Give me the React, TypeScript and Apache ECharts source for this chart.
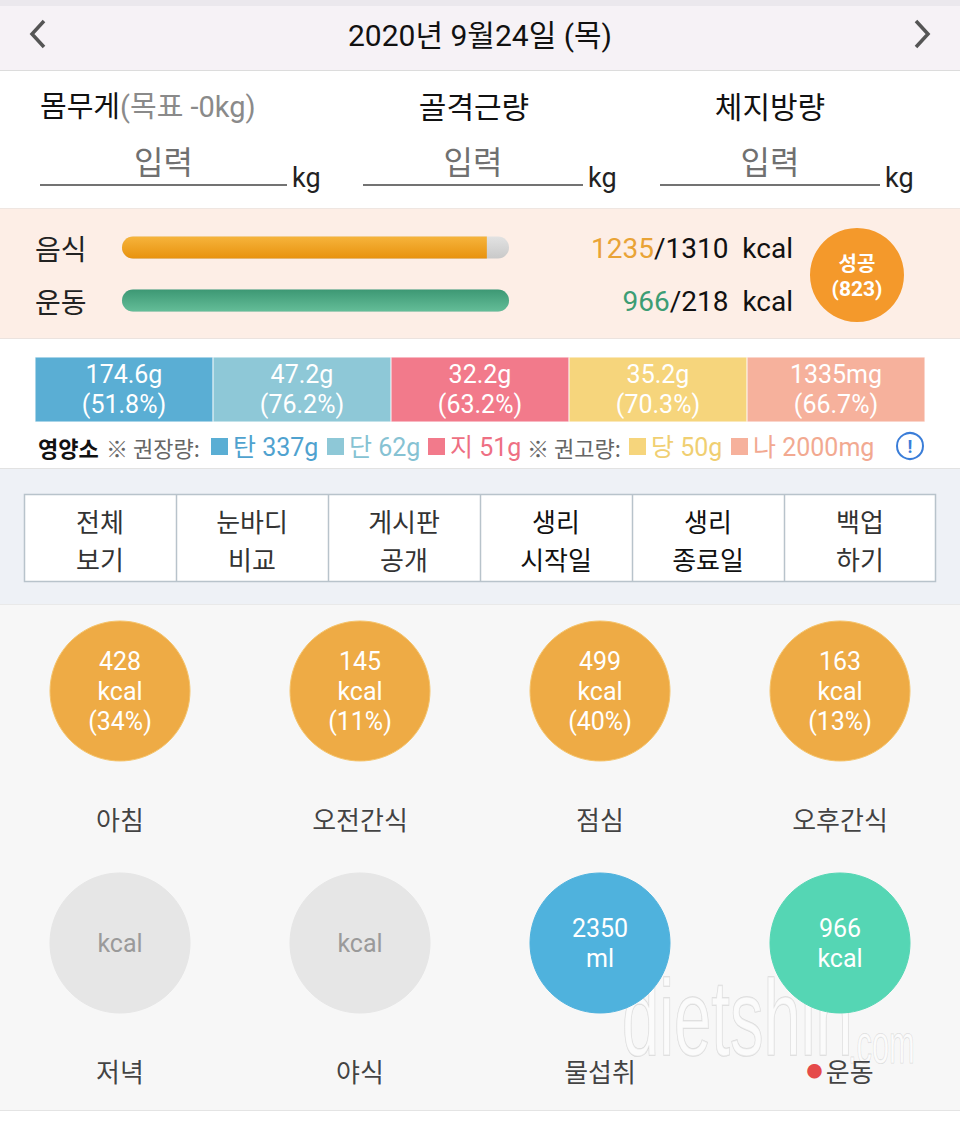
import React, { useEffect, useRef } from "react";
import * as echarts from "echarts";

const dateTitle = "2020년 9월24일 (목)";
const bodyFields = ["몸무게", "골격근량", "체지방량"];
const goalText = "(목표 -0kg)";
const inputPlaceholder = "입력";
const calorieRows = ["음식", "운동"];
const calorieActual = [1235, 966];
const calorieTarget = [1310, 218];
const successScore = 823;
const nutrientNames = ["탄", "단", "지", "당", "나"];
const nutrientAmounts = ["174.6g", "47.2g", "32.2g", "35.2g", "1335mg"];
const nutrientPercents = [51.8, 76.2, 63.2, 70.3, 66.7];
const nutrientRecommended = ["337g", "62g", "51g", "50g", "2000mg"];
const nutrientCellFill = [1, 1, 1, 1, 1];
const nutrientColors = ["#5aaed4", "#8ec8d7", "#f27a8b", "#f6d57c", "#f6b19c"];
const nutrientTextColors = ["#4fa2cf", "#86c2d3", "#ee6f83", "#f0cf72", "#f2a991"];
const menuButtons = [
  ["전체", "보기"],
  ["눈바디", "비교"],
  ["게시판", "공개"],
  ["생리", "시작일"],
  ["생리", "종료일"],
  ["백업", "하기"],
];
const mealNames = ["아침", "오전간식", "점심", "오후간식", "저녁", "야식", "물섭취", "운동"];
const mealKcal: (number | null)[] = [428, 145, 499, 163, null, null];
const mealPercent: (number | null)[] = [34, 11, 40, 13, null, null];
const waterMl = 2350;
const exerciseKcal = 966;
const watermark = ["dietshin", ".com"];

const FONT = "Roboto, 'Noto Sans CJK KR', sans-serif";
const KFONT = "'Noto Sans CJK KR', Roboto, sans-serif";
const NARROW = "'Liberation Sans Narrow', 'Liberation Sans', sans-serif";

export default function App() {
  const ref = useRef<HTMLDivElement>(null);
  useEffect(() => {
    document.body.style.margin = "0";
    if (!ref.current) return;
    const chart = echarts.init(ref.current, undefined, { renderer: "svg" });

    const g: any[] = [];
    const rect = (x: number, y: number, w: number, h: number, fill: string, extra: any = {}) =>
      g.push({ type: "rect", silent: true, shape: { x, y, width: w, height: h }, style: { fill, ...extra } });
    const line = (x1: number, y1: number, x2: number, y2: number, stroke: string, lw = 1) =>
      g.push({ type: "line", silent: true, shape: { x1, y1, x2, y2 }, style: { stroke, lineWidth: lw } });
    const mkText = (x: number, y: number, t: string, o: any = {}) => ({
      type: "text",
      silent: true,
      x,
      y,
      style: {
        text: t,
        fill: o.color || "#222",
        fontSize: o.size || 26,
        fontFamily: o.family || FONT,
        fontWeight: o.weight || "normal",
        align: o.align || "left",
        verticalAlign: o.valign || "middle",
        lineHeight: o.lineHeight,
        stroke: o.stroke,
        lineWidth: o.lineWidth,
        rich: o.rich,
      },
    });
    const text = (x: number, y: number, t: string, o: any = {}) => g.push(mkText(x, y, t, o));

    // section backgrounds
    rect(0, 0, 960, 71, "#f6f2f6");
    rect(0, 0, 960, 6, "#ebe8ed");
    line(0, 70.5, 960, 70.5, "#dcdcdc");
    rect(0, 71, 960, 138, "#ffffff");
    rect(0, 209, 960, 130, "#fdeee6");
    line(0, 208.5, 960, 208.5, "#efe6e1");
    line(0, 338.5, 960, 338.5, "#ebe3df");
    rect(0, 339, 960, 129, "#ffffff");
    line(0, 468.5, 960, 468.5, "#e2e2e2");
    rect(0, 469, 960, 135, "#eef1f6");
    rect(0, 604, 960, 506, "#f7f7f7");
    line(0, 604.5, 960, 604.5, "#e9e9e9");
    line(0, 1110.5, 960, 1110.5, "#e4e4e4");
    rect(0, 1111, 960, 12, "#ffffff");

    // header
    g.push({ type: "polyline", silent: true, shape: { points: [[44, 21], [32, 34], [44, 47]] }, style: { stroke: "#555", lineWidth: 3.5, fill: "none" } });
    g.push({ type: "polyline", silent: true, shape: { points: [[916, 21], [928, 34], [916, 47]] }, style: { stroke: "#555", lineWidth: 3.5, fill: "none" } });
    text(480, 35, dateTitle, { size: 30, color: "#111", align: "center" });

    // body measurements
    text(40, 107, `{a|${bodyFields[0]}}{b|${goalText}}`, {
      rich: {
        a: { fontSize: 29, fill: "#111", fontFamily: FONT },
        b: { fontSize: 29, fill: "#8a8a8a", fontFamily: FONT },
      },
    });
    text(474, 107, bodyFields[1], { size: 30, color: "#111", align: "center" });
    text(770, 107, bodyFields[2], { size: 30, color: "#111", align: "center" });
    const inputs = [
      [40, 287],
      [363, 583],
      [660, 880],
    ];
    inputs.forEach(([a, b]) => {
      text((a + b) / 2, 163, inputPlaceholder, { size: 32, color: "#707070", align: "center" });
      line(a, 185, b, 185, "#444", 1.5);
      text(b + 5, 178, "kg", { size: 27, color: "#222" });
    });

    // calorie values
    const calColors = ["#e9a336", "#3c9d74"];
    calorieRows.forEach((_, i) => {
      text(793, 248 + i * 53, `{a|${calorieActual[i]}}{b|/${calorieTarget[i]}  kcal}`, {
        align: "right",
        rich: {
          a: { fontSize: 28, fill: calColors[i], fontFamily: FONT },
          b: { fontSize: 28, fill: "#111", fontFamily: FONT },
        },
      });
    });
    g.push({ type: "circle", silent: true, shape: { cx: 857, cy: 275, r: 47 }, style: { fill: "#f4992b" } });
    text(857, 262, "성공", { size: 20, color: "#fff", align: "center", weight: "bold", family: KFONT });
    text(857, 289, `(${successScore})`, { size: 21, color: "#fff", align: "center", weight: "bold" });

    // nutrient legend
    text(38, 447, "영양소", { size: 22, color: "#111", weight: "bold", family: KFONT });
    text(106, 447, "※ 권장량:", { size: 22, color: "#666", family: KFONT });
    text(527, 447, "※ 권고량:", { size: 22, color: "#666", family: KFONT });
    const sqX = [211, 327, 428, 629, 731];
    nutrientNames.forEach((n, i) => {
      rect(sqX[i], 438, 17, 17, nutrientColors[i]);
      text(sqX[i] + 22, 447, `${n} ${nutrientRecommended[i]}`, { size: 25, color: nutrientTextColors[i] });
    });
    g.push({ type: "circle", silent: true, shape: { cx: 910, cy: 446, r: 13 }, style: { fill: "none", stroke: "#3a7dd8", lineWidth: 2 } });
    text(910, 446, "!", { size: 18, color: "#3a7dd8", align: "center", weight: "bold" });

    // menu table
    rect(24.5, 494.5, 911, 87, "#ffffff", { stroke: "#b8c3cb", lineWidth: 1.5 });
    menuButtons.forEach((m, i) => {
      if (i > 0) line(24.5 + 152 * i, 495, 24.5 + 152 * i, 581, "#b8c3cb", 1.5);
      const c = i === 3 || i === 4 ? "#111" : "#333";
      text(100 + 152 * i, 539, `${m[0]}\n${m[1]}`, { size: 26, color: c, align: "center", family: KFONT, lineHeight: 38 });
    });

    // watermark (drawn above the circles, horizontally condensed)
    g.push({
      type: "group",
      x: 622,
      y: 1072,
      scaleX: 0.62,
      scaleY: 1,
      z: 50,
      silent: true,
      children: [
        mkText(0, 0, watermark[0], {
          size: 108,
          family: NARROW,
          color: "rgba(255,255,255,0.5)",
          stroke: "rgba(100,100,100,0.2)",
          lineWidth: 1.5,
          valign: "bottom",
        }),
      ],
    });
    g.push({
      type: "group",
      x: 848,
      y: 1072,
      scaleX: 0.55,
      scaleY: 1,
      z: 50,
      silent: true,
      children: [
        mkText(0, 0, watermark[1], {
          size: 56,
          family: NARROW,
          color: "rgba(255,255,255,0.5)",
          stroke: "rgba(100,100,100,0.2)",
          lineWidth: 1.2,
          valign: "bottom",
        }),
      ],
    });

    // meal circle data
    const circleItems: any[] = [];
    const nameItems: any[] = [];
    mealNames.forEach((name, i) => {
      const col = i % 4;
      const row = Math.floor(i / 4);
      let color = "#e6e6e6";
      let label = "kcal";
      let lc = "#9a9a9a";
      if (i < 6) {
        if (mealKcal[i] !== null) {
          color = "#eeab45";
          label = `${mealKcal[i]}\nkcal\n(${mealPercent[i]}%)`;
          lc = "#ffffff";
        }
      } else if (i === 6) {
        color = "#4fb2dd";
        label = `${waterMl}\nml`;
        lc = "#ffffff";
      } else {
        color = "#55d6b4";
        label = `${exerciseKcal}\nkcal`;
        lc = "#ffffff";
      }
      circleItems.push({
        value: [col, row],
        itemStyle: { color, opacity: 1, borderColor: color === "#eeab45" ? "#f5c46c" : color, borderWidth: 1 },
        label: { formatter: label, color: lc },
      });
      nameItems.push({
        value: [col, row],
        label: { formatter: i === 7 ? `{dot|●} {t|${name}}` : `{t|${name}}` },
      });
    });

    const foodBars = calorieRows.map((_, i) => {
      const v = Math.min(calorieActual[i] / calorieTarget[i], 1);
      const grad =
        i === 0
          ? new echarts.graphic.LinearGradient(0, 0, 0, 1, [
              { offset: 0, color: "#f6b43c" },
              { offset: 1, color: "#e8920e" },
            ])
          : new echarts.graphic.LinearGradient(0, 0, 0, 1, [
              { offset: 0, color: "#3d9874" },
              { offset: 1, color: "#64bd98" },
            ]);
      return { value: v, itemStyle: { color: grad, borderRadius: v < 1 ? [11, 0, 0, 11] : 11 } };
    });

    chart.setOption({
      animation: false,
      backgroundColor: "#ffffff",
      graphic: { elements: g },
      grid: [
        { left: 122, top: 221, width: 387, height: 106 },
        { left: 35, top: 357, width: 890, height: 65 },
        { left: 0, top: 565, width: 960, height: 504 },
      ],
      xAxis: [
        { gridIndex: 0, type: "value", min: 0, max: 1, show: false },
        { gridIndex: 1, type: "category", data: nutrientNames, show: false },
        { gridIndex: 2, type: "category", data: ["0", "1", "2", "3"], show: false },
      ],
      yAxis: [
        {
          gridIndex: 0,
          type: "category",
          data: calorieRows,
          inverse: true,
          axisLine: { show: false },
          axisTick: { show: false },
          axisLabel: { align: "left", margin: 87, fontSize: 28, color: "#222", fontFamily: KFONT },
        },
        { gridIndex: 1, type: "value", min: 0, max: 1, show: false },
        { gridIndex: 2, type: "category", data: ["0", "1"], inverse: true, show: false },
      ],
      series: [
        {
          type: "bar",
          xAxisIndex: 0,
          yAxisIndex: 0,
          barWidth: 22,
          data: foodBars,
          showBackground: true,
          backgroundStyle: {
            color: new echarts.graphic.LinearGradient(0, 0, 0, 1, [
              { offset: 0, color: "#e2e2e2" },
              { offset: 1, color: "#c9c9c9" },
            ]),
            borderRadius: 11,
          },
        },
        {
          type: "bar",
          xAxisIndex: 1,
          yAxisIndex: 1,
          barCategoryGap: "0%",
          data: nutrientCellFill.map((v, i) => ({ value: v, itemStyle: { color: nutrientColors[i] } })),
          itemStyle: { borderColor: "rgba(255,255,255,0.8)", borderWidth: 0.5 },
          label: {
            show: true,
            position: "inside",
            color: "#fff",
            fontSize: 25,
            lineHeight: 30,
            fontFamily: FONT,
            formatter: (p: any) => `${nutrientAmounts[p.dataIndex]}\n(${nutrientPercents[p.dataIndex].toFixed(1)}%)`,
          },
        },
        {
          type: "scatter",
          xAxisIndex: 2,
          yAxisIndex: 2,
          symbolSize: 140,
          data: circleItems,
          itemStyle: { opacity: 1 },
          label: { show: true, position: "inside", fontSize: 25, lineHeight: 30, fontFamily: FONT },
          z: 3,
        },
        {
          type: "scatter",
          xAxisIndex: 2,
          yAxisIndex: 2,
          symbolSize: 140,
          silent: true,
          itemStyle: { color: "rgba(0,0,0,0)" },
          data: nameItems,
          label: {
            show: true,
            position: "bottom",
            distance: 41,
            rich: {
              t: { fontSize: 26, color: "#111", fontFamily: KFONT, lineHeight: 32 },
              dot: { fontSize: 16, color: "#e01a1a", fontFamily: KFONT, lineHeight: 32 },
            },
          },
          z: 4,
        },
      ],
    });
    return () => chart.dispose();
  }, []);
  return <div ref={ref} style={{ position: "absolute", left: 0, top: 0, width: 960, height: 1123 }} />;
}
